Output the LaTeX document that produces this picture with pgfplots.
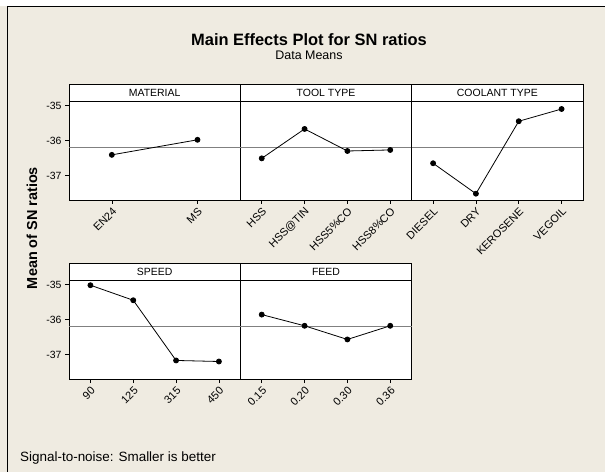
\documentclass[border=0pt]{standalone}
\usepackage{pgfplots}
\pgfplotsset{compat=1.18}
\usepackage{fontspec}
\setmainfont{Liberation Sans}
\definecolor{bg}{RGB}{239,235,225}
\definecolor{refgray}{RGB}{128,128,128}
\pgfplotsset{
  mepanel/.style={
    scale only axis, width=171.33bp, height=115.5bp,
    ymin=-37.70, ymax=-34.40,
    anchor=south west,
    axis background/.style={fill=white},
    axis line style={black, line width=0.9bp},
    tick style={black, line width=0.6bp},
    tick align=outside, major tick length=4bp,
    xtick pos=bottom, ytick pos=left,
    ytick={-37,-36,-35}, yticklabels={-37,-36,-35},
    yticklabel style={font=\fontsize{10.5}{12}\selectfont},
    xticklabel style={font=\fontsize{11}{12}\selectfont, rotate=45, anchor=east, inner sep=1bp, yshift=-6bp, xshift=-1bp},
    clip=false,
  },
  innerpanel/.style={ytick=\empty},
  dataline/.style={black, line width=0.8bp, mark=*, mark size=2.5bp, mark options={solid, fill=black}},
}
\newcommand{\hdrfont}{\fontsize{10.5}{12}\selectfont}
\begin{document}
\begin{tikzpicture}
\fill[bg] (0,0) rectangle (605bp,472bp);
\fill[white] (0,466bp) rectangle (605bp,472bp);
\draw[black, line width=0.8bp] (7bp,466bp) -- (605bp,466bp);
\draw[black, line width=0.8bp] (7bp,466bp) -- (7bp,0);

% ---------- top row ----------
\begin{axis}[mepanel, at={(69bp,272bp)}, xmin=0.5, xmax=2.5,
  xtick={1,2}, xticklabels={EN24, MS}]
  \draw[refgray, line width=0.8bp] (axis cs:0.5,-36.2) -- (axis cs:2.5,-36.2);
  \addplot[dataline] coordinates {(1,-36.41) (2,-35.98)};
  \draw[black, line width=0.8bp] (axis cs:0.5,-34.87) -- (axis cs:2.5,-34.87);
  \node[font=\hdrfont] at (axis cs:1.5,-34.635) {MATERIAL};
\end{axis}

\begin{axis}[mepanel, innerpanel, at={(240.33bp,272bp)}, xmin=0.5, xmax=4.5,
  xtick={1,2,3,4}, xticklabels={HSS, HSS@TIN, HSS5\%CO, HSS8\%CO}]
  \draw[refgray, line width=0.8bp] (axis cs:0.5,-36.2) -- (axis cs:4.5,-36.2);
  \addplot[dataline] coordinates {(1,-36.51) (2,-35.67) (3,-36.30) (4,-36.27)};
  \draw[black, line width=0.8bp] (axis cs:0.5,-34.87) -- (axis cs:4.5,-34.87);
  \node[font=\hdrfont] at (axis cs:2.5,-34.635) {TOOL TYPE};
\end{axis}

\begin{axis}[mepanel, innerpanel, at={(411.67bp,272bp)}, xmin=0.5, xmax=4.5,
  xtick={1,2,3,4}, xticklabels={DIESEL, DRY, KEROSENE, VEGOIL}]
  \draw[refgray, line width=0.8bp] (axis cs:0.5,-36.2) -- (axis cs:4.5,-36.2);
  \addplot[dataline] coordinates {(1,-36.65) (2,-37.52) (3,-35.45) (4,-35.10)};
  \draw[black, line width=0.8bp] (axis cs:0.5,-34.87) -- (axis cs:4.5,-34.87);
  \node[font=\hdrfont] at (axis cs:2.5,-34.635) {COOLANT TYPE};
\end{axis}

% ---------- bottom row ----------
\begin{axis}[mepanel, at={(69bp,93bp)}, xmin=0.5, xmax=4.5,
  xtick={1,2,3,4}, xticklabels={90, 125, 315, 450}]
  \draw[refgray, line width=0.8bp] (axis cs:0.5,-36.2) -- (axis cs:4.5,-36.2);
  \addplot[dataline] coordinates {(1,-35.02) (2,-35.45) (3,-37.17) (4,-37.20)};
  \draw[black, line width=0.8bp] (axis cs:0.5,-34.87) -- (axis cs:4.5,-34.87);
  \node[font=\hdrfont] at (axis cs:2.5,-34.635) {SPEED};
\end{axis}

\begin{axis}[mepanel, innerpanel, at={(240.33bp,93bp)}, xmin=0.5, xmax=4.5,
  xtick={1,2,3,4}, xticklabels={0.15, 0.20, 0.30, 0.36}]
  \draw[refgray, line width=0.8bp] (axis cs:0.5,-36.2) -- (axis cs:4.5,-36.2);
  \addplot[dataline] coordinates {(1,-35.86) (2,-36.18) (3,-36.57) (4,-36.18)};
  \draw[black, line width=0.8bp] (axis cs:0.5,-34.87) -- (axis cs:4.5,-34.87);
  \node[font=\hdrfont] at (axis cs:2.5,-34.635) {FEED};
\end{axis}

% ---------- titles ----------
\node[font=\bfseries\fontsize{16.5}{18}\selectfont] at (309bp,432bp) {Main Effects Plot for SN ratios};
\node[font=\fontsize{12.5}{14}\selectfont] at (309bp,417bp) {Data Means};
\node[rotate=90, font=\bfseries\fontsize{14.5}{16}\selectfont] at (32bp,244bp) {Mean of SN ratios};
\node[anchor=west, inner sep=0pt, font=\fontsize{13.5}{15}\selectfont] at (20bp,14bp) {Signal-to-noise: Smaller is better};

\pgfresetboundingbox
\path[use as bounding box] (0,0) rectangle (605bp,472bp);
\end{tikzpicture}
\end{document}
